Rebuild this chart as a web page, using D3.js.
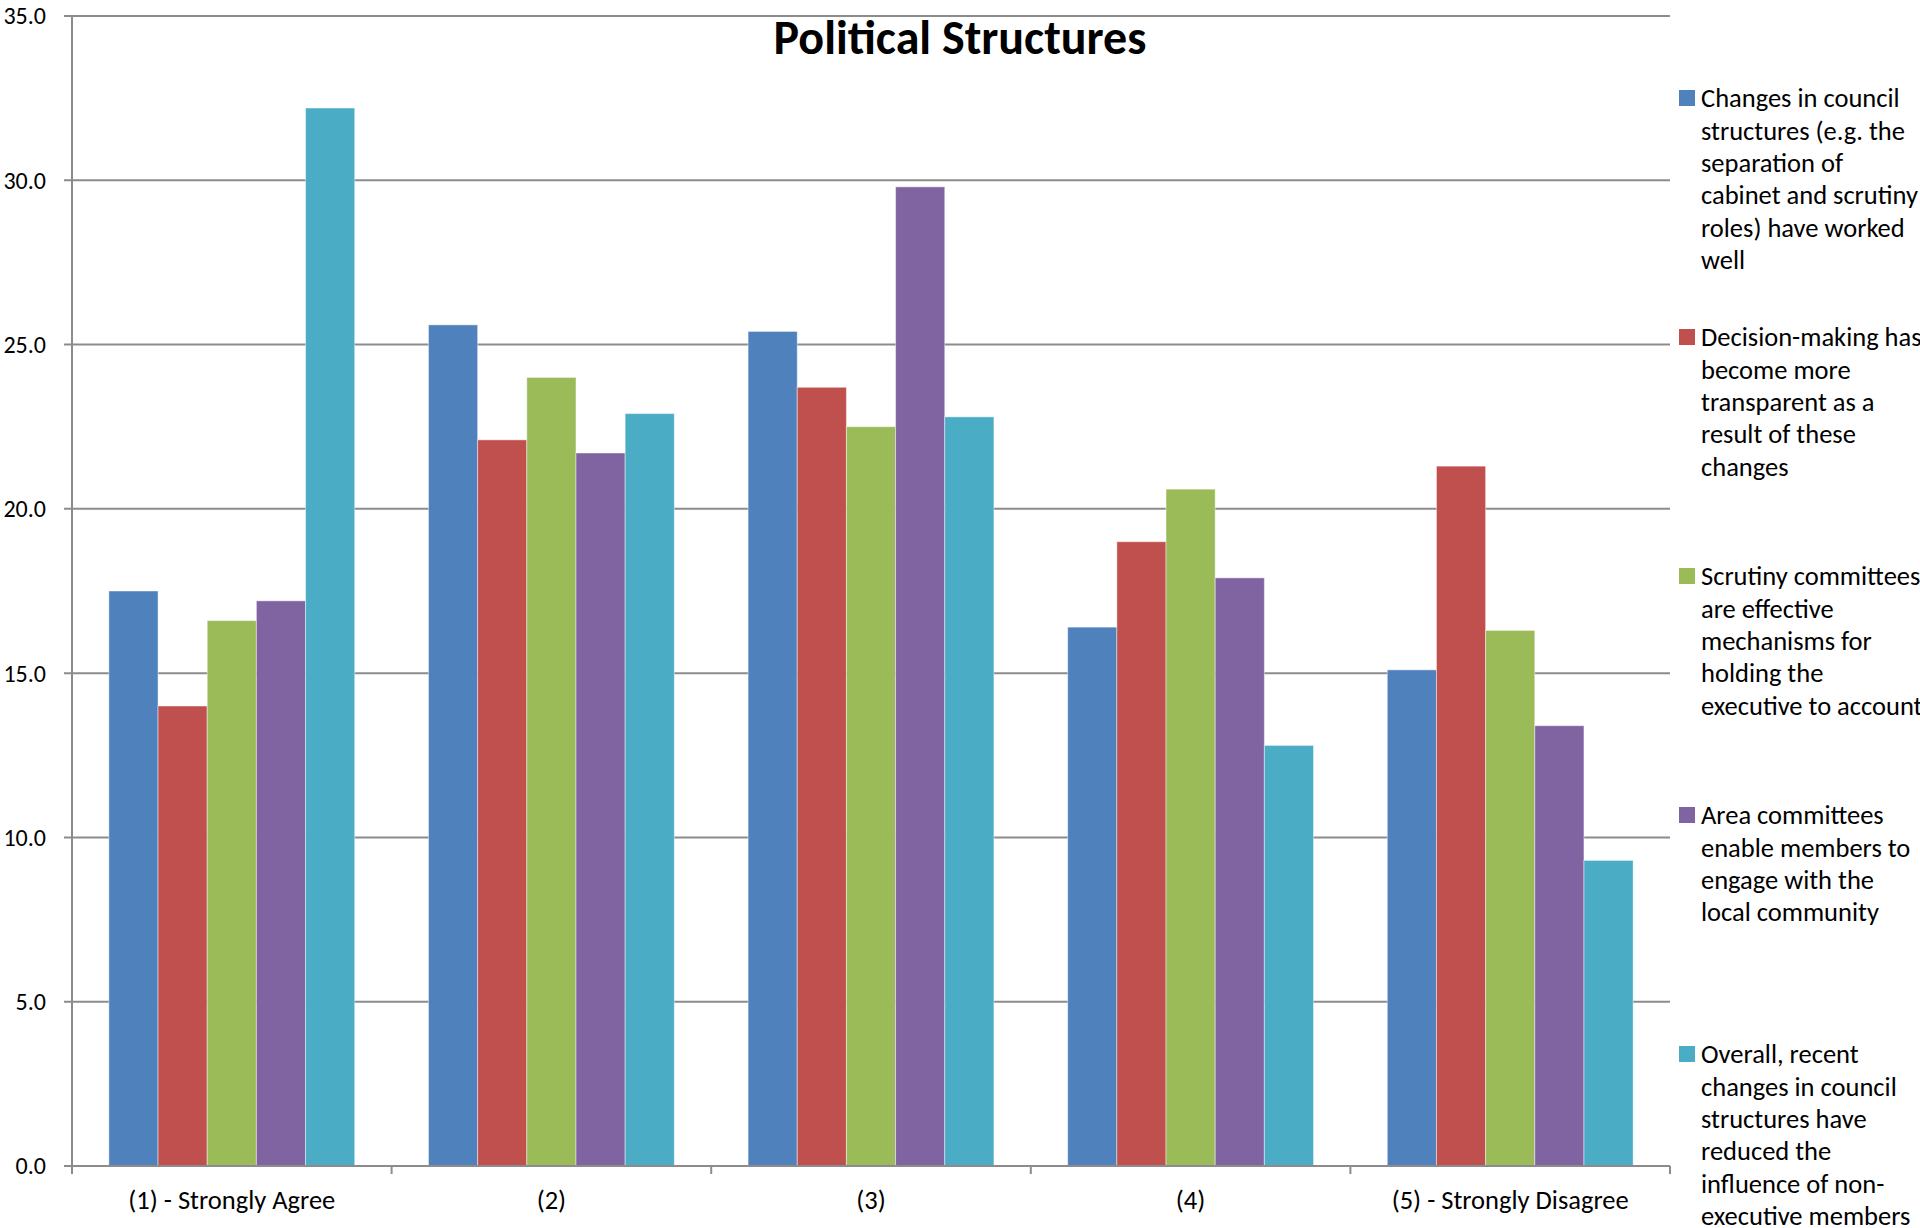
<!DOCTYPE html>
<html>
<head>
<meta charset="utf-8">
<script src="https://cdn.jsdelivr.net/npm/d3@7"></script>
<style>
  html, body { margin: 0; padding: 0; background: #fff; overflow: hidden; }
  svg { display: block; }
  text { font-family: Carlito, Lato, "Open Sans", sans-serif; fill: #000; }
</style>
</head>
<body>
<svg id="chart" width="1920" height="1228"></svg>
<script>
// Response categories (x axis)
const categories = ["(1) - Strongly Agree", "(2)", "(3)", "(4)", "(5) - Strongly Disagree"];

// Statements (series), with the wrapped legend lines for each
const seriesNames = [
  "Changes in council structures (e.g. the separation of cabinet and scrutiny roles) have worked well",
  "Decision-making has become more transparent as a result of these changes",
  "Scrutiny committees are effective mechanisms for holding the executive to account",
  "Area committees enable members to engage with the local community",
  "Overall, recent changes in council structures have reduced the influence of non-executive members"
];
const legendLines = [
  ["Changes in council", "structures (e.g. the", "separation of", "cabinet and scrutiny", "roles) have worked", "well"],
  ["Decision-making has", "become more", "transparent as a", "result of these", "changes"],
  ["Scrutiny committees", "are effective", "mechanisms for", "holding the", "executive to account"],
  ["Area committees", "enable members to", "engage with the", "local community"],
  ["Overall, recent", "changes in council", "structures have", "reduced the", "influence of non-", "executive members"]
];

// Percentage of respondents per category, one array per statement
const councilStructures = [17.5, 25.6, 25.4, 16.4, 15.1];
const transparency      = [14.0, 22.1, 23.7, 19.0, 21.3];
const scrutiny          = [16.6, 24.0, 22.5, 20.6, 16.3];
const areaCommittees    = [17.2, 21.7, 29.8, 17.9, 13.4];
const overallInfluence  = [32.2, 22.9, 22.8, 12.8, 9.3];

const seriesValues = [councilStructures, transparency, scrutiny, areaCommittees, overallInfluence];
const colors = ["#4F81BD", "#C0504D", "#9BBB59", "#8064A2", "#4BACC6"];

const yTicks = [0, 5, 10, 15, 20, 25, 30, 35];
const chartTitle = "Political Structures";

const svg = d3.select("#chart");

const plot = { left: 72, right: 1670, top: 16, bottom: 1166 };

const x0 = d3.scaleBand().domain(categories).range([plot.left, plot.right]).padding(0);
const x1 = d3.scaleBand().domain(d3.range(seriesNames.length))
  .range([0, x0.bandwidth()]).paddingInner(0).paddingOuter(0.75);
const y = d3.scaleLinear().domain([0, 35]).range([plot.bottom, plot.top]);

const gridColor = "#8c8c8c";

// Horizontal gridlines (with tick stubs to the left of the axis)
svg.append("g").selectAll("line").data(yTicks).join("line")
  .attr("x1", plot.left - 8).attr("x2", plot.right)
  .attr("y1", d => y(d)).attr("y2", d => y(d))
  .attr("stroke", gridColor).attr("stroke-width", 2);

// Y axis tick labels
svg.append("g").selectAll("text").data(yTicks).join("text")
  .attr("x", 46).attr("y", d => y(d))
  .attr("dy", "0.35em")
  .attr("text-anchor", "end")
  .style("font-size", "24px")
  .text(d => d.toFixed(1));

// Bars
const groups = svg.append("g").selectAll("g").data(categories).join("g")
  .attr("transform", d => `translate(${x0(d)},0)`);

groups.selectAll("rect")
  .data((c, ci) => seriesValues.map((vals, si) => ({ si, v: vals[ci] })))
  .join("rect")
  .attr("x", d => x1(d.si))
  .attr("width", x1.bandwidth())
  .attr("y", d => y(d.v))
  .attr("height", d => y(0) - y(d.v))
  .attr("fill", d => colors[d.si])
  .attr("stroke", "rgba(255,255,255,0.45)")
  .attr("stroke-width", 1);

// Vertical axis line
svg.append("line")
  .attr("x1", plot.left).attr("x2", plot.left)
  .attr("y1", plot.top).attr("y2", plot.bottom + 8)
  .attr("stroke", gridColor).attr("stroke-width", 2);

// X axis baseline and category boundary ticks
svg.append("line")
  .attr("x1", plot.left - 8).attr("x2", plot.right)
  .attr("y1", y(0)).attr("y2", y(0))
  .attr("stroke", gridColor).attr("stroke-width", 2);

const boundaries = categories.map(c => x0(c)).concat([x0(categories[categories.length - 1]) + x0.bandwidth()]);
svg.append("g").selectAll("line").data(boundaries).join("line")
  .attr("x1", d => d).attr("x2", d => d)
  .attr("y1", y(0)).attr("y2", y(0) + 8)
  .attr("stroke", gridColor).attr("stroke-width", 2);

// Category labels
svg.append("g").selectAll("text").data(categories).join("text")
  .attr("x", d => x0(d) + x0.bandwidth() / 2)
  .attr("y", 1209)
  .attr("text-anchor", "middle")
  .style("font-size", "26.5px")
  .text(d => d);

// Title
svg.append("text")
  .attr("x", 960).attr("y", 54)
  .attr("text-anchor", "middle")
  .style("font-size", "48px")
  .style("font-weight", "bold")
  .text(chartTitle);

// Legend
const legend = svg.append("g");
const legendTop = 98, legendStep = 239, lineH = 32.4;
const entries = legend.selectAll("g").data(seriesNames).join("g")
  .attr("transform", (d, i) => `translate(1679,${legendTop + i * legendStep})`);

entries.append("rect")
  .attr("x", 0).attr("y", -8).attr("width", 16).attr("height", 16)
  .attr("fill", (d, i) => colors[i]);

entries.append("text")
  .attr("x", 22).attr("y", 0)
  .style("font-size", "26.5px")
  .selectAll("tspan")
  .data((d, i) => legendLines[i])
  .join("tspan")
  .attr("x", 22)
  .attr("y", (d, j) => j * lineH)
  .attr("dy", "0.35em")
  .text(d => d);
</script>
</body>
</html>
